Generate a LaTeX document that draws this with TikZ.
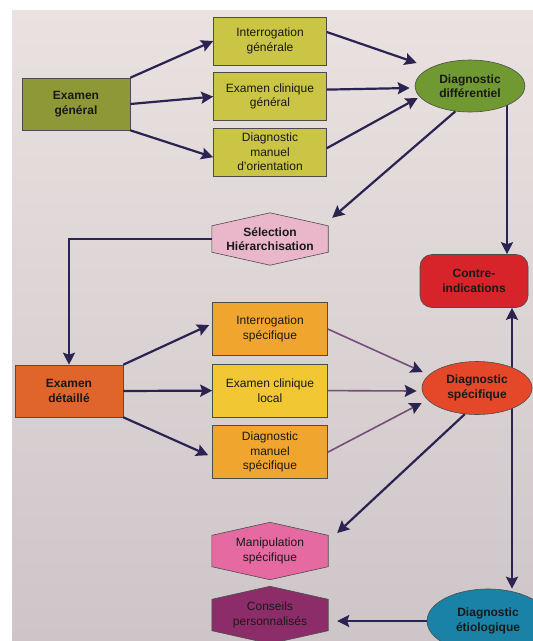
\documentclass[tikz,border=0pt]{standalone}
\usepackage{fontspec}
\setmainfont{Liberation Sans}
\usetikzlibrary{positioning, shapes, arrows.meta}
\pgfdeclarelayer{page}
\pgfdeclarelayer{shapes}
\pgfsetlayers{page,shapes,main}

\definecolor{navy}{RGB}{43,35,82}
\definecolor{fadeline}{RGB}{118,78,122}
\definecolor{olive1}{RGB}{142,152,54}
\definecolor{olive2}{RGB}{202,197,68}
\definecolor{green1}{RGB}{112,153,50}
\definecolor{rose1}{RGB}{234,182,202}
\definecolor{red1}{RGB}{214,36,42}
\definecolor{orange1}{RGB}{224,101,42}
\definecolor{orange2}{RGB}{240,166,46}
\definecolor{yellow1}{RGB}{241,199,52}
\definecolor{red2}{RGB}{228,72,40}
\definecolor{pink1}{RGB}{229,106,162}
\definecolor{plum1}{RGB}{140,45,106}
\definecolor{teal1}{RGB}{26,130,166}

\tikzset{
  rectbox/.style={rectangle, draw=black!70, line width=0.6pt, inner sep=0pt, align=center,
    minimum width=113pt, minimum height=48pt, text=black!90, font=\fontsize{12}{14.5}\selectfont},
  ovalbox/.style={ellipse, draw=black!70, line width=0.6pt, inner sep=0pt, align=center,
    text=black!90, font=\fontsize{12}{14.5}\selectfont\bfseries},
  hexbox/.style={rectangle, inner sep=0pt, align=center, minimum width=116pt,
    text=black!90, font=\fontsize{12}{14.5}\selectfont},
  arr/.style={-{Stealth[length=12pt, width=12pt, inset=2pt]}, draw=navy, line width=2.2pt},
  fadearr/.style={-{Stealth[length=12pt, width=12pt, inset=2pt, color=navy]}, draw=fadeline, line width=1.6pt},
}

% hexagon drawn behind a node
\newcommand{\hexfill}[2]{%
  \begin{pgfonlayer}{shapes}
    \draw[draw=black!70, line width=0.6pt, fill=#2]
      ([yshift=-13pt]#1.north west) -- (#1.north) -- ([yshift=-13pt]#1.north east)
      -- ([yshift=13pt]#1.south east) -- (#1.south) -- ([yshift=13pt]#1.south west) -- cycle;
  \end{pgfonlayer}}

\begin{document}
\begin{tikzpicture}[x=1pt, y=-1pt]
  \useasboundingbox (0,0) rectangle (533,641);
  \begin{pgfonlayer}{page}
    \fill[white] (0,0) rectangle (533,641);
    \shade[top color={rgb,255:red,234;green,225;blue,224}, bottom color={rgb,255:red,206;green,197;blue,201}]
      (12,10) rectangle (533,641);
  \end{pgfonlayer}

  % examen general
  \node (gen) [rectbox, fill=olive1, minimum width=108pt, minimum height=52pt, font=\fontsize{12}{14.5}\selectfont\bfseries] at (76,104) {Examen\\général};

  \node (intg) [rectbox, fill=olive2] at (270,41) {Interrogation\\générale};
  \node (clin) [rectbox, fill=olive2, below=7pt of intg] {Examen clinique\\général};
  \node (orient) [rectbox, fill=olive2, below=7pt of clin] {Diagnostic\\manuel\\d'orientation};

  \node (diff) [ovalbox, fill=green1, minimum width=110pt, minimum height=52pt] at (470,86) {Diagnostic\\différentiel};

  \node (sel) [hexbox, minimum height=52pt, font=\fontsize{12}{14.5}\selectfont\bfseries] at (270,239) {Sélection\\Hiérarchisation};
  \hexfill{sel}{rose1}

  \node (contre) [rectbox, rounded corners=12pt, fill=red1, minimum width=108pt, minimum height=53pt, font=\fontsize{12}{14.5}\selectfont\bfseries] at (474,281) {Contre-\\indications};

  % examen detaille
  \node (exd) [rectbox, fill=orange1, minimum width=108pt, minimum height=52pt, font=\fontsize{12}{14.5}\selectfont\bfseries] at (69,391) {Examen\\détaillé};

  \node (ints) [rectbox, fill=orange2, minimum width=115pt, minimum height=53pt] at (270,329) {Interrogation\\spécifique};
  \node (locl) [rectbox, fill=yellow1, minimum width=115pt, minimum height=53pt, below=8pt of ints] {Examen clinique\\local};
  \node (spec) [rectbox, fill=orange2, minimum width=115pt, minimum height=53pt, below=8pt of locl] {Diagnostic\\manuel\\spécifique};

  \node (dsp) [ovalbox, fill=red2, minimum width=110pt, minimum height=53pt] at (477,388) {Diagnostic\\spécifique};

  \node (manip) [hexbox, minimum height=57pt] at (270,551) {Manipulation\\spécifique};
  \hexfill{manip}{pink1}
  \node (cons) [hexbox, minimum height=57pt] at (270,615) {Conseils\\personnalisés};
  \hexfill{cons}{plum1}

  \node (etio) [ovalbox, fill=teal1, minimum width=122pt, minimum height=64pt] at (488,621) {Diagnostic\\étiologique};

  % connectors
  \draw[arr] (gen.north east) -- (intg.west);
  \draw[arr] (gen.east) -- (clin.west);
  \draw[arr] (gen.south east) -- ([shift={(0,5)}]orient.west);

  \draw[arr] ([shift={(0,-9)}]intg.east) -- ([shift={(2,-23)}]diff.west);
  \draw[arr] ([shift={(0,-7)}]clin.east) -- ([shift={(-5,2)}]diff.west);
  \draw[arr] ([shift={(0,-4)}]orient.east) -- ([shift={(3,12)}]diff.west);

  \draw[arr] (diff.240) -- ([shift={(4,5)}]sel.north east);
  \draw[arr] (sel.west) -| (exd.north);

  \draw[arr] (exd.north east) -- ([shift={(-3,-4)}]ints.west);
  \draw[arr] (exd.east) -- (locl.west);
  \draw[arr] (exd.south east) -- ([shift={(-4,3)}]spec.west);

  \draw[fadearr] (ints.east) -- ([shift={(1,-16)}]dsp.west);
  \draw[fadearr] (locl.east) -- ([shift={(-5,3)}]dsp.west);
  \draw[fadearr] (spec.east) -- ([shift={(0,15)}]dsp.west);

  \draw[arr] (dsp.245) -- ([shift={(9,-18)}]manip.east);
  \draw[arr] (etio.west) -- ([xshift=9pt]etio.west -| cons.east);

  \begin{pgfonlayer}{shapes}
    \draw[arr] ([xshift=37pt]diff.center) -- ([xshift=37pt]diff.center |- contre.north);
    \draw[arr] ([xshift=35pt]dsp.center) -- ([xshift=35pt]dsp.center |- contre.south);
    \draw[arr] ([xshift=35pt]dsp.center) -- ([xshift=35pt]dsp.center |- etio.north);
  \end{pgfonlayer}
\end{tikzpicture}
\end{document}
